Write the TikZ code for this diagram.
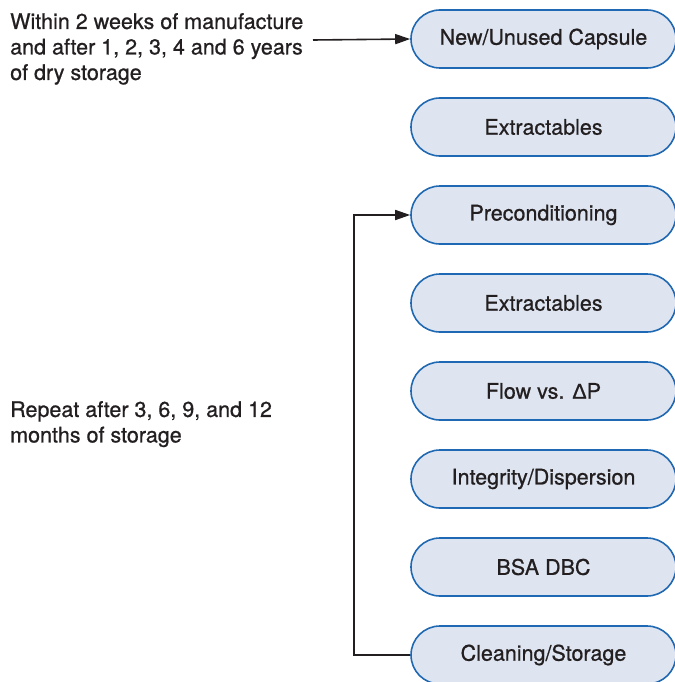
\documentclass[tikz,border=0pt]{standalone}
\usepackage{fontspec}
\setmainfont{TeX Gyre Heros}[FakeBold=0.8]
\newfontfamily\greekfont{Liberation Sans}[FakeBold=0.8]
\usetikzlibrary{arrows.meta}
\definecolor{stepblue}{HTML}{1F68B3}
\definecolor{stepfill}{HTML}{DEE5F1}
\definecolor{inktext}{HTML}{231F20}
\tikzset{
	stage/.style={draw=stepblue, fill=stepfill, line width=1.6pt, rounded corners=29pt,
		minimum width=265pt, minimum height=58pt, inner sep=0pt, text=inktext,
		font=\fontsize{21.5}{25}\selectfont},
	note/.style={anchor=north west, align=left, inner sep=0pt, text=inktext,
		font=\fontsize{21.5}{25.5}\selectfont},
	flowline/.style={draw=inktext, line width=1.6pt},
	tip/.style={-{Triangle[length=15pt,width=10pt]}}
}
\begin{document}
\begin{tikzpicture}[x=1pt,y=-1pt]
	\useasboundingbox (0,0) rectangle (674,682);
	\node[stage] (new)     at (543.5,39)  {New/Unused Capsule};
	\node[stage] (ext1)    at (543.5,127) {Extractables};
	\node[stage] (precond) at (543.5,215) {Preconditioning};
	\node[stage] (ext2)    at (543.5,303) {Extractables};
	\node[stage] (flow)    at (543.5,391) {Flow vs. {\greekfont Δ}P};
	\node[stage] (integ)   at (543.5,479) {Integrity/Dispersion};
	\node[stage] (bsa)     at (543.5,567) {BSA DBC};
	\node[stage] (clean)   at (543.5,655) {Cleaning/Storage};

	\node[note] (within) at (10,13) {Within 2 weeks of manufacture\\and after 1, 2, 3, 4 and 6 years\\of dry storage};
	\node[note] (repeat) at (10,401) {Repeat after 3, 6, 9, and 12\\months of storage};

	\coordinate (start) at (313,40);
	\coordinate (loop) at (354,0);
	\draw[flowline, tip] (start) -- (new.west);
	\draw[flowline, tip] (clean.west) -| (loop |- clean.west) |- (precond.west);
\end{tikzpicture}
\end{document}
